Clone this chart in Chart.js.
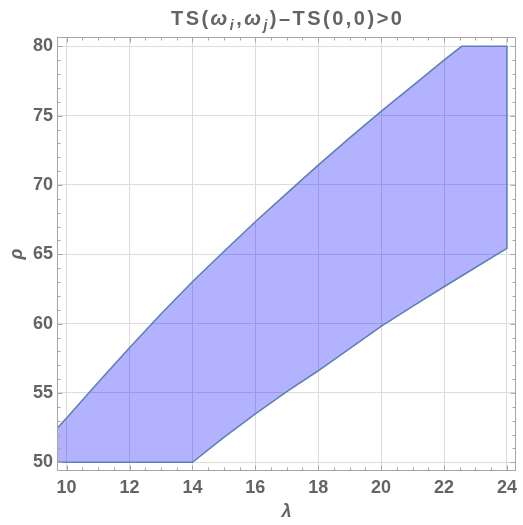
<!DOCTYPE html>
<html>
<head>
<meta charset="utf-8">
<script src="https://cdn.jsdelivr.net/npm/chart.js@4/dist/chart.umd.min.js"></script>
<style>
  html, body { margin: 0; padding: 0; background: #ffffff; }
  #wrap { width: 523px; height: 525px; position: relative; }
</style>
</head>
<body>
<div id="wrap"><canvas id="c" width="523" height="525"></canvas></div>
<script>
// ---- data ----
const upperLambda = [9.7, 10, 11, 12, 13, 14, 15, 16, 17, 18, 19, 20, 21, 22, 22.56, 24];
const upperRho    = [52.45, 53.2, 55.75, 58.26, 60.7, 63.02, 65.2, 67.35, 69.4, 71.43, 73.4, 75.3, 77.15, 79.0, 80, 80];
const lowerLambda = [9.7, 14, 15, 16, 17, 18, 19, 20, 21, 22, 23, 24];
const lowerRho    = [50, 50, 51.8, 53.5, 55.1, 56.6, 58.2, 59.8, 61.25, 62.66, 64.05, 65.43];

const xTicks = [10, 12, 14, 16, 18, 20, 22, 24];
const yTicks = [50, 55, 60, 65, 70, 75, 80];
const xMinorStep = 0.5;
const yMinorStep = 1;

const titleParts = [
  {t: 'TS(', s: 'n'}, {t: 'ω', s: 'i'}, {t: 'i', s: 'sub'}, {t: ',', s: 'n'},
  {t: 'ω', s: 'i'}, {t: 'j', s: 'sub'}, {t: ')–TS(0,0)>0', s: 'n'}
];
const xTitle = 'λ';
const yTitle = 'ρ';

// ---- build polygon from boundaries ----
const polygon = [];
for (let i = 0; i < upperLambda.length; i++) polygon.push({x: upperLambda[i], y: upperRho[i]});
for (let i = lowerLambda.length - 1; i >= 0; i--) polygon.push({x: lowerLambda[i], y: lowerRho[i]});
polygon.push({x: upperLambda[0], y: upperRho[0]});

const FONT = '"Liberation Sans", Arial, sans-serif';
const TEXT_COLOR = '#646464';
const FRAME_COLOR = '#a6a6a6';

const framePlugin = {
  id: 'frameTicks',
  afterDraw(chart) {
    const ctx = chart.ctx;
    const xs = chart.scales.x, ys = chart.scales.y;
    const a = chart.chartArea;
    const L = Math.round(a.left) + 0.5, R = Math.round(a.right) - 0.5;
    const T = Math.round(a.top) + 0.5, B = Math.round(a.bottom) - 0.5;
    ctx.save();
    ctx.strokeStyle = FRAME_COLOR;
    ctx.lineWidth = 1;
    ctx.strokeRect(L, T, R - L, B - T);
    ctx.beginPath();
    const eps = 1e-9;
    for (let v = Math.ceil(xs.min / xMinorStep) * xMinorStep; v <= xs.max + eps; v += xMinorStep) {
      const major = xTicks.some(t => Math.abs(t - v) < 1e-6);
      const len = major ? 5 : 3;
      const px = Math.round(xs.getPixelForValue(v)) + 0.5;
      ctx.moveTo(px, B); ctx.lineTo(px, B - len);
      ctx.moveTo(px, T); ctx.lineTo(px, T + len);
    }
    for (let v = Math.ceil(ys.min / yMinorStep) * yMinorStep; v <= ys.max + eps; v += yMinorStep) {
      const major = yTicks.some(t => Math.abs(t - v) < 1e-6);
      const len = major ? 5 : 3;
      const py = Math.round(ys.getPixelForValue(v)) + 0.5;
      ctx.moveTo(L, py); ctx.lineTo(L + len, py);
      ctx.moveTo(R, py); ctx.lineTo(R - len, py);
    }
    ctx.stroke();

    // title with subscripts
    const fonts = {
      n: 'bold 20px ' + FONT,
      i: 'italic bold 20px ' + FONT,
      sub: 'italic bold 14px ' + FONT
    };
    const chars = [];
    titleParts.forEach(p => { for (const ch of p.t) chars.push({ch, s: p.s}); });
    let natural = 0;
    chars.forEach(c => { ctx.font = fonts[c.s]; c.w = ctx.measureText(c.ch).width; natural += c.w; });
    const targetW = 231;
    const gap = Math.max(0, (targetW - natural) / (chars.length - 1));
    const realW = natural + gap * (chars.length - 1);
    let x = (a.left + a.right) / 2 - realW / 2;
    const baseY = 24.5;
    ctx.fillStyle = TEXT_COLOR;
    ctx.textBaseline = 'alphabetic';
    ctx.textAlign = 'left';
    chars.forEach(c => {
      ctx.font = fonts[c.s];
      ctx.fillText(c.ch, x, c.s === 'sub' ? baseY + 5 : baseY);
      x += c.w + gap;
    });
    ctx.restore();
  }
};

new Chart(document.getElementById('c'), {
  type: 'scatter',
  data: {
    datasets: [{
      label: 'region',
      data: polygon,
      showLine: true,
      fill: 'shape',
      backgroundColor: 'rgba(0,0,255,0.3)',
      borderColor: '#5e81b5',
      borderWidth: 1.6,
      borderJoinStyle: 'miter',
      pointRadius: 0,
      pointHoverRadius: 0,
      tension: 0
    }]
  },
  options: {
    responsive: false,
    animation: false,
    events: [],
    layout: { padding: { top: 37, right: 4, left: 0, bottom: 0 } },
    plugins: {
      legend: { display: false },
      tooltip: { enabled: false },
      title: { display: false }
    },
    scales: {
      x: {
        type: 'linear',
        min: 9.694,
        max: 24.284,
        afterBuildTicks: s => { s.ticks = xTicks.map(v => ({value: v})); },
        afterFit: s => { s.height = 54; },
        grid: { color: '#dcdcdc', lineWidth: 1, drawTicks: false },
        border: { display: false },
        ticks: { color: TEXT_COLOR, font: { family: FONT, size: 18, weight: 'bold' }, padding: 6, maxRotation: 0, autoSkip: false },
        title: { display: true, text: xTitle, color: TEXT_COLOR, font: { family: FONT, size: 18, weight: 'bold', style: 'italic' }, padding: { top: 0, bottom: 2 } }
      },
      y: {
        type: 'linear',
        min: 49.373,
        max: 80.671,
        afterBuildTicks: s => { s.ticks = yTicks.map(v => ({value: v})); },
        afterFit: s => { s.width = 57; },
        grid: { color: '#dcdcdc', lineWidth: 1, drawTicks: false },
        border: { display: false },
        ticks: { color: TEXT_COLOR, font: { family: FONT, size: 18, weight: 'bold' }, padding: 4, autoSkip: false },
        title: { display: true, text: yTitle, color: TEXT_COLOR, font: { family: FONT, size: 18, weight: 'bold', style: 'italic' }, padding: { top: 6, bottom: 0 } }
      }
    }
  },
  plugins: [framePlugin]
});
</script>
</body>
</html>
